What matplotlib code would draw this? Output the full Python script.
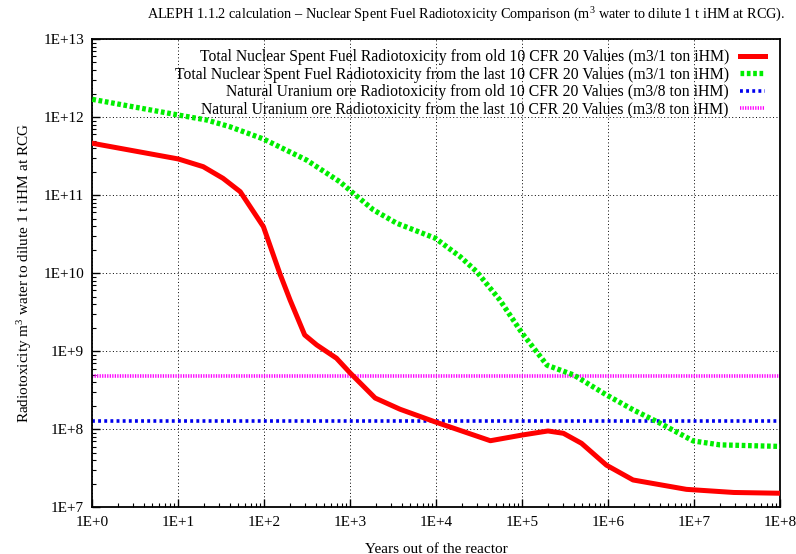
import matplotlib
matplotlib.use('Agg')
import matplotlib.pyplot as plt
from matplotlib.ticker import LogLocator, FuncFormatter, NullFormatter
import numpy as np

plt.rcParams['font.family'] = ['Liberation Serif', 'DejaVu Serif']
plt.rcParams['mathtext.fontset'] = 'custom'
plt.rcParams['mathtext.rm'] = 'Liberation Serif'
plt.rcParams['mathtext.it'] = 'Liberation Serif'

# values (log10 of years, log10 of m3 water)
old_logx = [0.0, 1.0, 1.29, 1.52, 1.72, 1.99, 2.18, 2.30, 2.47, 2.61, 2.84, 3.0, 3.29,
            3.58, 3.98, 4.63, 5.0, 5.30, 5.48, 5.69, 5.98, 6.29, 6.91, 7.46, 8.0]
old_logy = [11.664, 11.463, 11.364, 11.215, 11.044, 10.595, 9.998, 9.656, 9.208, 9.08,
            8.91, 8.72, 8.40, 8.256, 8.097, 7.853, 7.926, 7.978, 7.948, 7.82, 7.54,
            7.35, 7.23, 7.19, 7.18]

new_logx = [0.0, 1.0, 1.33, 1.60, 1.99, 2.49, 2.88, 3.04, 3.27, 3.54, 3.99, 4.28, 4.47,
            4.74, 5.0, 5.29, 5.60, 5.98, 6.29, 6.60, 6.99, 7.30, 8.0]
new_logy = [12.227, 12.026, 11.962, 11.876, 11.719, 11.45, 11.17, 11.02, 10.81, 10.64,
            10.447, 10.21, 10.02, 9.656, 9.23, 8.82, 8.695, 8.44, 8.25, 8.08, 7.85,
            7.80, 7.78]

ore_old = 1.28e8
ore_new = 4.8e8

labels = ['Total Nuclear Spent Fuel Radiotoxicity from old 10 CFR 20 Values (m3/1 ton iHM)',
          'Total Nuclear Spent Fuel Radiotoxicity from the last 10 CFR 20 Values (m3/1 ton iHM)',
          'Natural Uranium ore Radiotoxicity from old 10 CFR 20 Values (m3/8 ton iHM)',
          'Natural Uranium ore Radiotoxicity from the last 10 CFR 20 Values (m3/8 ton iHM)']

fig = plt.figure(figsize=(7.96, 5.54), dpi=100)
ax = fig.add_axes([0.116, 0.0843, 0.864, 0.8453])

ax.plot(10**np.array(old_logx), 10**np.array(old_logy), color='#ff0000', lw=3.6,
        solid_joinstyle='round', label=labels[0], zorder=4)
ax.plot(10**np.array(new_logx), 10**np.array(new_logy), color='#00ee00', lw=3.8,
        linestyle=(0, (0.7, 0.5)), dash_capstyle='butt', label=labels[1], zorder=3)
ax.axhline(ore_old, color='#0000ee', lw=2.6, linestyle=(0, (0.8, 0.9)),
           label=labels[2], zorder=2)
ax.axhline(ore_new, color='#ff00ff', lw=2.6, linestyle=(0, (0.35, 0.35)),
           label=labels[3], zorder=2)

ax.set_xscale('log')
ax.set_yscale('log')
ax.set_xlim(1, 1e8)
ax.set_ylim(1e7, 1e13)

fmt = FuncFormatter(lambda v, p: '1E+%d' % int(round(np.log10(v))))
ax.xaxis.set_major_locator(LogLocator(base=10, numticks=20))
ax.yaxis.set_major_locator(LogLocator(base=10, numticks=20))
ax.xaxis.set_minor_locator(LogLocator(base=10, subs=np.arange(2, 10), numticks=20))
ax.yaxis.set_minor_locator(LogLocator(base=10, subs=np.arange(2, 10), numticks=20))
ax.xaxis.set_major_formatter(fmt)
ax.yaxis.set_major_formatter(fmt)
ax.xaxis.set_minor_formatter(NullFormatter())
ax.yaxis.set_minor_formatter(NullFormatter())
ax.tick_params(which='both', direction='in', labelsize=11, top=False, right=False)
ax.tick_params(which='major', length=6, width=1)
ax.tick_params(which='minor', length=3, width=0.8)
ax.tick_params(axis='x', pad=6)
ax.tick_params(axis='y', pad=6)
ax.grid(True, which='major', color='black', linestyle=(0, (1, 2.5)), lw=0.7)
for s in ax.spines.values():
    s.set_linewidth(1.3)

ax.set_xlabel('Years out of the reactor', fontsize=11, labelpad=10)
ax.set_ylabel('Radiotoxicity m$^3$ water to dilute 1 t iHM at RCG', fontsize=11, labelpad=7)
fig.text(0.586, 0.973, 'ALEPH 1.1.2 calculation \u2013 Nuclear Spent Fuel Radiotoxicity '
         'Comparison (m$^3$ water to dilute 1 t iHM at RCG).', ha='center', va='center',
         fontsize=10.3)

leg = ax.legend(loc='upper right', bbox_to_anchor=(0.993, 1.0), frameon=False,
                markerfirst=False, fontsize=11.3, handlelength=1.6, handletextpad=0.7,
                labelspacing=0.1, borderaxespad=0.25)

fig.savefig('out.png', dpi=100)
